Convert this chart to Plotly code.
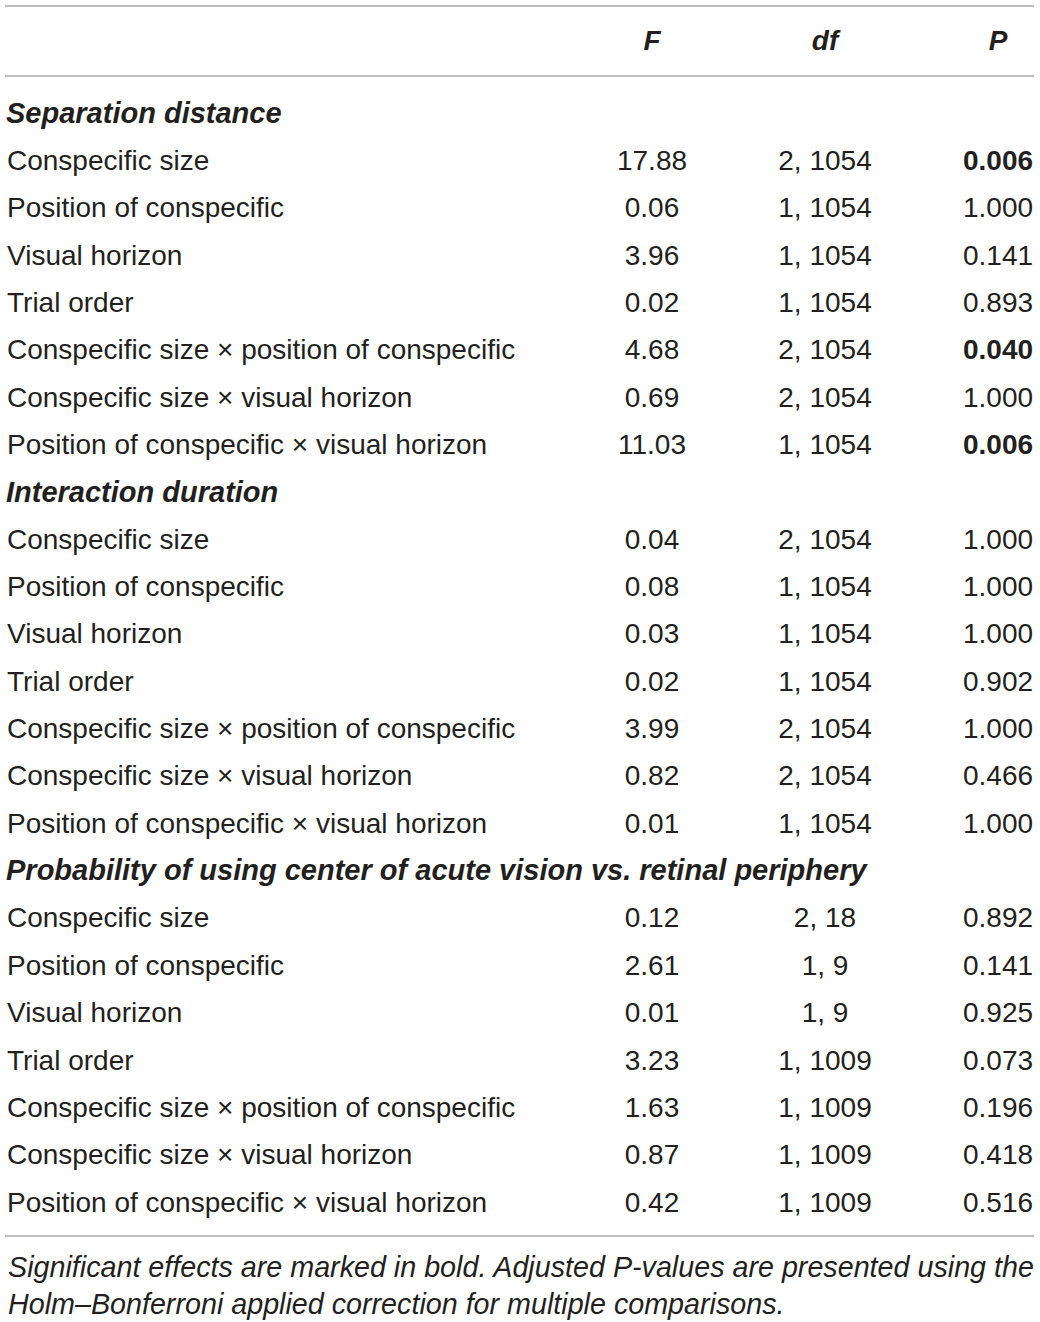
import plotly.graph_objects as go

# table content
sections = [
    "Separation distance",
    "Interaction duration",
    "Probability of using center of acute vision vs. retinal periphery",
]
effects = [
    "Conspecific size",
    "Position of conspecific",
    "Visual horizon",
    "Trial order",
    "Conspecific size × position of conspecific",
    "Conspecific size × visual horizon",
    "Position of conspecific × visual horizon",
]
f_values = [
    ["17.88", "0.06", "3.96", "0.02", "4.68", "0.69", "11.03"],
    ["0.04", "0.08", "0.03", "0.02", "3.99", "0.82", "0.01"],
    ["0.12", "2.61", "0.01", "3.23", "1.63", "0.87", "0.42"],
]
df_values = [
    ["2, 1054", "1, 1054", "1, 1054", "1, 1054", "2, 1054", "2, 1054", "1, 1054"],
    ["2, 1054", "1, 1054", "1, 1054", "1, 1054", "2, 1054", "2, 1054", "1, 1054"],
    ["2, 18", "1, 9", "1, 9", "1, 1009", "1, 1009", "1, 1009", "1, 1009"],
]
p_values = [
    ["0.006", "1.000", "0.141", "0.893", "0.040", "1.000", "0.006"],
    ["1.000", "1.000", "1.000", "0.902", "1.000", "0.466", "1.000"],
    ["0.892", "0.141", "0.925", "0.073", "0.196", "0.418", "0.516"],
]
significant = [
    [True, False, False, False, True, False, True],
    [False] * 7,
    [False] * 7,
]
headers = ["F", "df", "P"]
footnote = ("Significant effects are marked in bold. Adjusted P-values are presented using the<br>"
            "Holm–Bonferroni applied correction for multiple comparisons.")

W, H = 1040, 1322
TXT = "#231f20"
FONT = "Liberation Sans"
FS = 28
ROW0, STEP = 115.5, 47.35
COL_X = [652, 825, 998]

lab_x, lab_y, lab_t = [], [], []
sec_x, sec_y, sec_t = [], [], []
cell_x, cell_y, cell_t = [], [], []
row = 0
for s, sec in enumerate(sections):
    y = ROW0 + STEP * row
    sec_x.append(6); sec_y.append(y); sec_t.append(f"<b><i>{sec}</i></b>")
    row += 1
    for i, eff in enumerate(effects):
        y = ROW0 + STEP * row
        lab_x.append(7); lab_y.append(y); lab_t.append(eff)
        p = p_values[s][i]
        if significant[s][i]:
            p = f"<b>{p}</b>"
        for cx, val in zip(COL_X, [f_values[s][i], df_values[s][i], p]):
            cell_x.append(cx); cell_y.append(y); cell_t.append(val)
        row += 1

fig = go.Figure()
fig.add_trace(go.Scatter(
    x=COL_X, y=[42.5] * 3, mode="text",
    text=[f"<b><i>{h}</i></b>" for h in headers],
    textposition="middle center",
    textfont=dict(family=FONT, size=FS, color=TXT),
    hoverinfo="skip", showlegend=False, cliponaxis=False,
))
fig.add_trace(go.Scatter(
    x=sec_x, y=sec_y, mode="text", text=sec_t,
    textposition="middle right",
    textfont=dict(family=FONT, size=29, color=TXT),
    hoverinfo="skip", showlegend=False, cliponaxis=False,
))
fig.add_trace(go.Scatter(
    x=lab_x, y=lab_y, mode="text", text=lab_t,
    textposition="middle right",
    textfont=dict(family=FONT, size=FS, color=TXT),
    hoverinfo="skip", showlegend=False, cliponaxis=False,
))
fig.add_trace(go.Scatter(
    x=cell_x, y=cell_y, mode="text", text=cell_t,
    textposition="middle center",
    textfont=dict(family=FONT, size=FS, color=TXT),
    hoverinfo="skip", showlegend=False, cliponaxis=False,
))

# horizontal rules
for yl in [6, 76, 1236]:
    fig.add_shape(type="line", x0=5, x1=1034, y0=yl, y1=yl,
                  line=dict(color="#a7a7a7", width=1.5), layer="below")

fig.add_annotation(
    x=6, y=1285, xref="x", yref="y", text=f"<i>{footnote}</i>",
    showarrow=False, xanchor="left", yanchor="middle", align="left",
    font=dict(family=FONT, size=28.7, color=TXT),
)

fig.update_layout(
    width=W, height=H,
    margin=dict(l=0, r=0, t=0, b=0),
    paper_bgcolor="white", plot_bgcolor="white",
    xaxis=dict(range=[0, W], visible=False, fixedrange=True),
    yaxis=dict(range=[H, 0], visible=False, fixedrange=True),
)

fig.write_html("out.html", config={"displayModeBar": False},
               post_script="document.body.style.margin='0';")
